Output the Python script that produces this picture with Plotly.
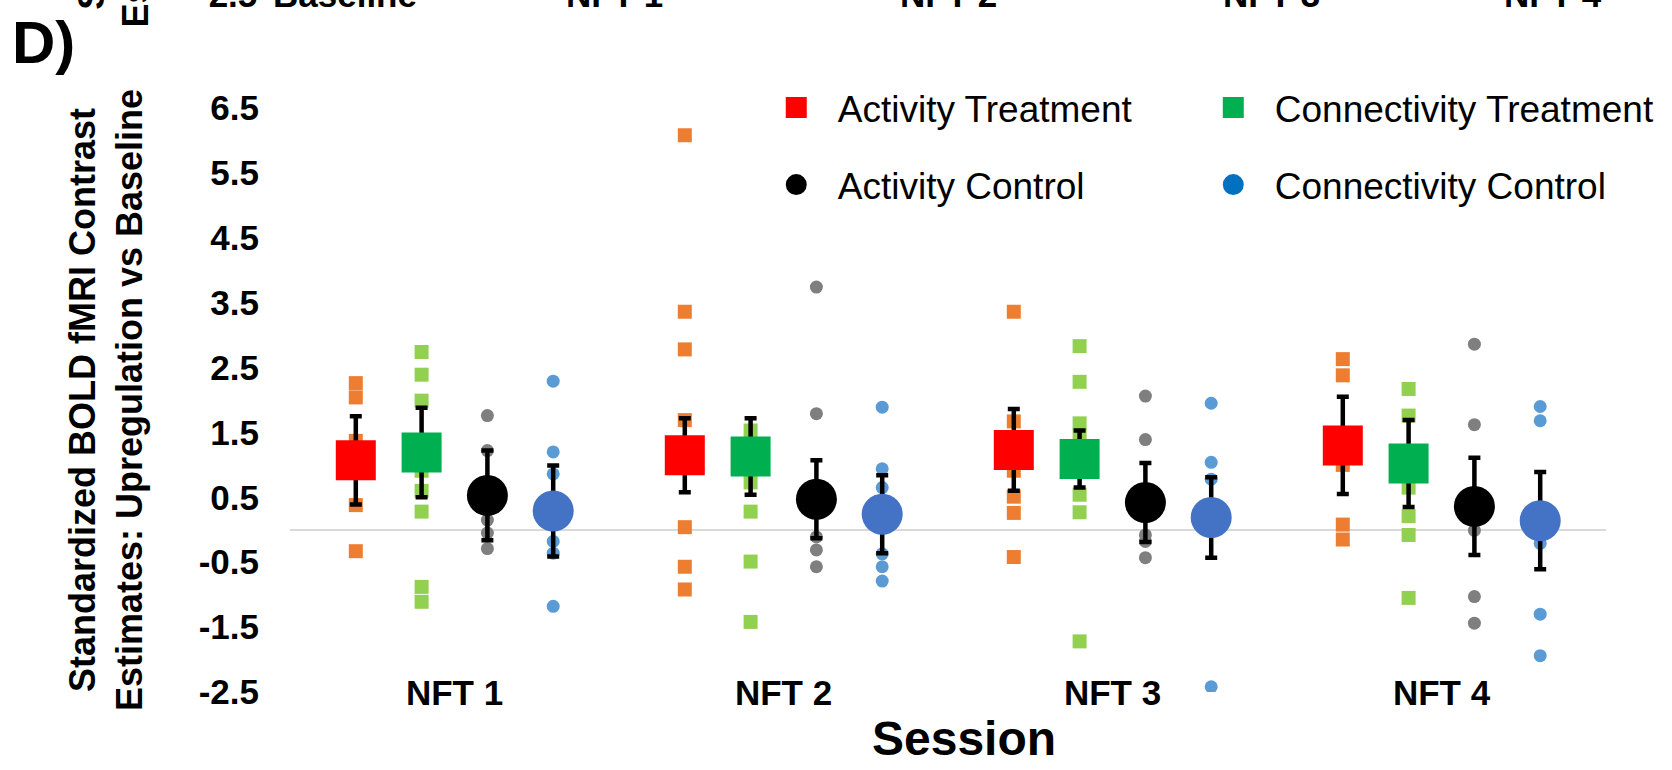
import plotly.graph_objects as go

# ---------------- data ----------------
sessions = ["NFT 1", "NFT 2", "NFT 3", "NFT 4"]
y_tick_vals = [-2.5, -1.5, -0.5, 0.5, 1.5, 2.5, 3.5, 4.5, 5.5, 6.5]
y_tick_text = ["-2.5", "-1.5", "-0.5", "0.5", "1.5", "2.5", "3.5", "4.5", "5.5", "6.5"]

act_treat_mean = [1.07, 1.15, 1.23, 1.30]
act_treat_err = [0.68, 0.57, 0.63, 0.75]
act_treat_pts = [
    [2.26, 2.04, 1.37, 0.38, -0.33],
    [6.08, 3.36, 2.78, 1.69, 0.04, -0.57, -0.92],
    [3.36, 1.67, 0.91, 0.51, 0.26, -0.42],
    [2.63, 2.38, 1.00, 0.08, -0.15],
]

conn_treat_mean = [1.19, 1.13, 1.09, 1.02]
conn_treat_err = [0.69, 0.59, 0.44, 0.67]
conn_treat_pts = [
    [2.74, 2.39, 1.99, 0.91, 0.60, 0.28, -0.88, -1.11],
    [1.53, 0.73, 0.28, -0.49, -1.42],
    [2.83, 2.28, 1.64, 1.46, 0.54, 0.27, -1.72],
    [2.17, 1.76, 0.65, 0.21, -0.08, -1.05],
]

act_ctrl_mean = [0.53, 0.47, 0.42, 0.36]
act_ctrl_err = [0.69, 0.60, 0.61, 0.75]
act_ctrl_pts = [
    [1.76, 1.22, 0.15, -0.05, -0.29],
    [3.74, 1.79, -0.11, -0.31, -0.57],
    [2.06, 1.39, -0.08, -0.18, -0.43],
    [2.86, 1.62, -0.01, -1.03, -1.44],
]

conn_ctrl_mean = [0.29, 0.24, 0.19, 0.14]
conn_ctrl_err = [0.70, 0.60, 0.62, 0.75]
conn_ctrl_pts = [
    [2.29, 1.20, 0.86, -0.18, -0.36, -1.18],
    [1.89, 0.94, 0.65, -0.37, -0.57, -0.79],
    [1.95, 1.04, 0.78, -2.42],
    [1.90, 1.68, -0.21, -1.30, -1.94],
]

group_names = ["Activity Treatment", "Connectivity Treatment", "Activity Control", "Connectivity Control"]

# ---------------- styles / layout constants ----------------
W, H = 1672, 770
ML, MR, MT, MB = 290, 54, 108, 78
PW, PH = W - ML - MR, H - MT - MB
FONT = "Liberation Sans, Arial, sans-serif"

offsets = [-0.3, -0.1, 0.1, 0.3]
mean_symbols = ["square", "square", "circle", "circle"]
mean_sizes = [40, 40, 41, 41]
mean_colors = ["#FF0000", "#00B050", "#000000", "#4472C4"]
legend_colors = ["#FF0000", "#00B050", "#000000", "#0070C0"]
pt_symbols = ["square", "square", "circle", "circle"]
pt_sizes = [14, 14, 13, 13]
pt_colors = ["#ED7D31", "#92D050", "#7F7F7F", "#5B9BD5"]


def px_x(px):
    return (px - ML) / PW


def px_y(py):
    return (H - MB - py) / PH


means = [act_treat_mean, conn_treat_mean, act_ctrl_mean, conn_ctrl_mean]
errs = [act_treat_err, conn_treat_err, act_ctrl_err, conn_ctrl_err]
pts = [act_treat_pts, conn_treat_pts, act_ctrl_pts, conn_ctrl_pts]

fig = go.Figure()

# individual subject points
for g in range(4):
    xs, ys = [], []
    for i, vals in enumerate(pts[g]):
        for v in vals:
            xs.append(i + offsets[g])
            ys.append(v)
    fig.add_trace(go.Scatter(
        x=xs, y=ys, mode="markers", showlegend=False, hoverinfo="y",
        marker=dict(symbol=pt_symbols[g], size=pt_sizes[g], color=pt_colors[g], line=dict(width=0)),
    ))

# group means with error bars
for g in range(4):
    fig.add_trace(go.Scatter(
        x=[i + offsets[g] for i in range(len(sessions))], y=means[g],
        mode="markers", name=group_names[g], showlegend=False,
        marker=dict(symbol=mean_symbols[g], size=mean_sizes[g], color=mean_colors[g], line=dict(width=0)),
        error_y=dict(type="data", array=errs[g], visible=True, color="black", thickness=4.5, width=6),
    ))

# legend entries (one legend box per entry, placed in a 2x2 grid)
legend_keys = ["legend", "legend2", "legend3", "legend4"]
for g in range(4):
    fig.add_trace(go.Scatter(
        x=[None], y=[None], mode="markers", name=group_names[g], legend=legend_keys[g],
        marker=dict(symbol=mean_symbols[g], size=16, color=legend_colors[g],
                    line=dict(width=5, color=legend_colors[g])),
    ))

leg_pos = {
    "legend": (759, 108),
    "legend2": (1200, 108),
    "legend3": (759, 185),
    "legend4": (1200, 185),
}
legend_layout = {}
for k, (lx, ly) in leg_pos.items():
    legend_layout[k] = dict(
        x=px_x(lx), y=px_y(ly), xanchor="left", yanchor="middle",
        font=dict(family=FONT, size=37, color="black"),
        itemwidth=73, bgcolor="rgba(0,0,0,0)", borderwidth=0,
    )

annotations = [
    dict(text="D)", x=px_x(7.5), y=px_y(42), xref="paper", yref="paper",
         xanchor="left", yanchor="middle", showarrow=False,
         font=dict(family=FONT, size=60, color="black", weight="bold")),
    dict(text="Session", x=px_x(970), y=px_y(738), xref="paper", yref="paper",
         xanchor="center", yanchor="middle", showarrow=False,
         font=dict(family=FONT, size=48, color="black", weight="bold")),
]
# cut-off remnants of the panel above
top_labels = [("-2.5", 259, "right"), ("Baseline", 346, "center"), ("NFT 1", 617, "center"),
              ("NFT 2", 955, "center"), ("NFT 3", 1280, "center"), ("NFT 4", 1565, "center")]
for txt, xp, anc in top_labels:
    annotations.append(dict(text=txt, x=px_x(xp), y=px_y(-6), xref="paper", yref="paper",
                            xanchor=anc, yanchor="middle", showarrow=False,
                            font=dict(family=FONT, size=35, color="black", weight="bold")))
annotations.append(dict(text="Estimates: Upregulation vs Baseline", textangle=-90,
                        x=px_x(134), y=px_y(29), xref="paper", yref="paper",
                        xanchor="center", yanchor="bottom", showarrow=False,
                        font=dict(family=FONT, size=36, color="black", weight="bold")))
annotations.append(dict(text="Standardized BOLD fMRI Contrast", textangle=-90,
                        x=px_x(89), y=px_y(12), xref="paper", yref="paper",
                        xanchor="center", yanchor="bottom", showarrow=False,
                        font=dict(family=FONT, size=36, color="black", weight="bold")))

fig.update_layout(
    width=W, height=H,
    margin=dict(l=ML, r=MR, t=MT, b=MB, pad=0),
    paper_bgcolor="white", plot_bgcolor="white",
    font=dict(family=FONT, color="black"),
    annotations=annotations,
    xaxis=dict(
        range=[-0.5, 3.5], tickmode="array", tickvals=list(range(len(sessions))), ticktext=sessions,
        tickfont=dict(family=FONT, size=35, color="black", weight="bold"),
        showgrid=False, zeroline=False, showline=False, ticks="",
        anchor="free", position=0.039,
    ),
    yaxis=dict(
        range=[-2.5, 6.5], tickmode="array", tickvals=y_tick_vals, ticktext=y_tick_text,
        tickfont=dict(family=FONT, size=35, color="black", weight="bold"),
        showgrid=False, showline=False, ticks="", ticklabelstandoff=30,
        zeroline=True, zerolinecolor="#D9D9D9", zerolinewidth=1.5,
        title=dict(text="Standardized BOLD fMRI Contrast<br>Estimates: Upregulation vs Baseline",
                   font=dict(family=FONT, size=36, color="black", weight="bold"), standoff=45),
    ),
    **legend_layout,
)

fig.write_html("out.html", config={"displayModeBar": False},
               post_script="document.body.style.margin='0px';")
